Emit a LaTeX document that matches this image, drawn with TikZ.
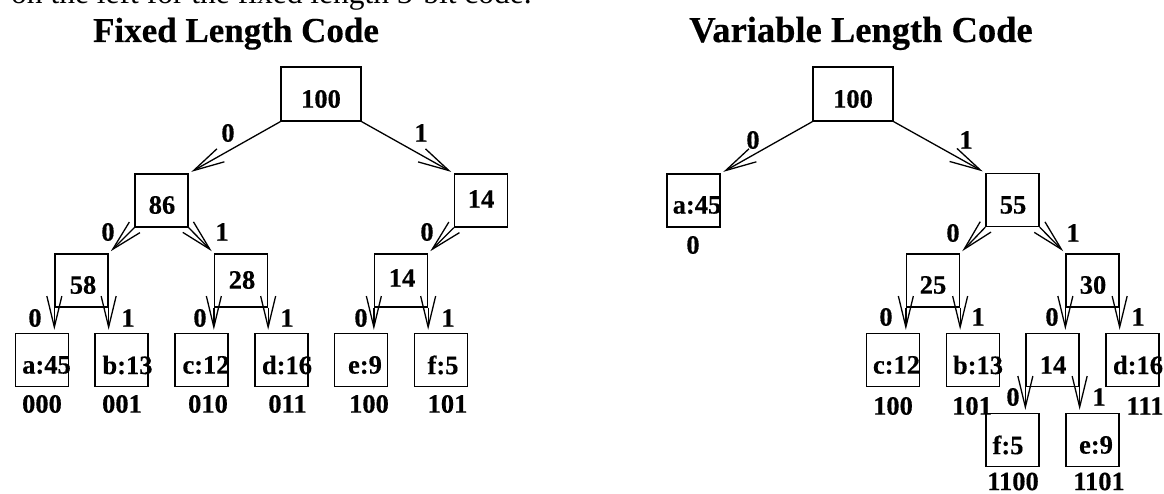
\documentclass[tikz,border=0pt]{standalone}
\usepackage{fontspec}
\setmainfont{Liberation Serif}
\newfontfamily\heavyfont{Liberation Serif Bold}[FakeBold=0.4]
\usetikzlibrary{arrows.meta}
\begin{document}
\begin{tikzpicture}[x=1pt,y=-1pt,
  box/.style={draw,line width=1.3pt,minimum width=53pt,minimum height=53pt,inner sep=0pt},
  rootbox/.style={box,minimum width=80pt,minimum height=54pt},
  txt/.style={inner sep=0pt,font=\fontsize{26.5}{30}\heavyfont},
  ttl/.style={inner sep=0pt,anchor=base,font=\fontsize{35}{40}\heavyfont},
  edge/.style={line width=1.3pt,-{Straight Barb[length=31pt,width=15pt,line width=1.3pt]},shorten >=3pt}
]
\useasboundingbox (0,0) rectangle (1164,494);
\node[inner sep=0pt,anchor=base west,font=\fontsize{31.5}{36}\selectfont] (cut) at (11,4) {on the left for the fixed length 3-bit code.};
\node[ttl] (tfix) at (236,42) {Fixed Length Code};
\node[ttl,font=\fontsize{36.5}{40}\heavyfont] (tvar) at (861,42) {Variable Length Code};

% ---------- fixed length tree ----------
\node[rootbox] (L100) at (321,94) {};
\node[box] (L86) at (161.5,200.5) {};
\node[box] (L14) at (481,200.5) {};
\node[box] (L58) at (81.5,280.5) {};
\node[box] (L28) at (241,280.5) {};
\node[box] (L14b) at (401,280.5) {};
\node[box] (La) at (42,360) {};
\node[box] (Lb) at (121.5,360) {};
\node[box] (Lc) at (201.5,360) {};
\node[box] (Ld) at (281.5,360) {};
\node[box] (Le) at (361,360) {};
\node[box] (Lf) at (441,360) {};

\node[txt] (tL100) at (321,99) {100};
\node[txt] (tL86) at (162,205) {86};
\node[txt] (tL14) at (481,199) {14};
\node[txt] (tL58) at (83,285) {58};
\node[txt] (tL28) at (242,280) {28};
\node[txt] (tL14b) at (402,278) {14};
\node[txt] (tLa) at (46.5,365) {a:45};
\node[txt] (tLb) at (127.5,365) {b:13};
\node[txt] (tLc) at (206,365) {c:12};
\node[txt] (tLd) at (287,365) {d:16};
\node[txt] (tLe) at (365,365) {e:9};
\node[txt] (tLf) at (443,365) {f:5};

\node[txt] (cLa) at (42,404) {000};
\node[txt] (cLb) at (122,404) {001};
\node[txt] (cLc) at (208,404) {010};
\node[txt] (cLd) at (287.5,404) {011};
\node[txt] (cLe) at (369,404) {100};
\node[txt] (cLf) at (447.5,404) {101};

\draw[edge] (L100.south west) -- (L86.north east);
\draw[edge] (L100.south east) -- (L14.north west);
\draw[edge] (L86.south west) -- (L58.north east);
\draw[edge] (L86.south east) -- (L28.north west);
\draw[edge] (L14.south west) -- (L14b.north east);
\draw[edge] (L58.south west) -- (L58.south west |- La.north);
\draw[edge] (L58.south east) -- (L58.south east |- Lb.north);
\draw[edge] (L28.south west) -- (L28.south west |- Lc.north);
\draw[edge] (L28.south east) -- (L28.south east |- Ld.north);
\draw[edge] (L14b.south west) -- (L14b.south west |- Le.north);
\draw[edge] (L14b.south east) -- (L14b.south east |- Lf.north);

\node[txt] (eL1) at (228,133) {0};
\node[txt] (eL2) at (421,133) {1};
\node[txt] (eL3) at (108,232) {0};
\node[txt] (eL4) at (222,232) {1};
\node[txt] (eL5) at (427,232) {0};
\node[txt] (eL6) at (35,318) {0};
\node[txt] (eL7) at (128,318) {1};
\node[txt] (eL8) at (200,318) {0};
\node[txt] (eL9) at (287,318) {1};
\node[txt] (eL10) at (361,318) {0};
\node[txt] (eL11) at (448,318) {1};

% ---------- variable length tree ----------
\node[rootbox] (R100) at (853,94) {};
\node[box] (Ra) at (693.5,200.5) {};
\node[box] (R55) at (1012.5,200) {};
\node[box] (R25) at (933,280.5) {};
\node[box] (R30) at (1092.5,280.5) {};
\node[box] (Rc) at (893,360) {};
\node[box] (Rb) at (973,360) {};
\node[box] (R14) at (1052.5,360) {};
\node[box] (Rd) at (1132.5,360) {};
\node[box] (Rf) at (1012.5,440) {};
\node[box] (Re) at (1092.5,440) {};

\node[txt] (tR100) at (853,99) {100};
\node[txt] (tRa) at (697,205) {a:45};
\node[txt] (tR55) at (1013,205) {55};
\node[txt] (tR25) at (933,285) {25};
\node[txt] (tR30) at (1093,285) {30};
\node[txt] (tRc) at (896.5,365) {c:12};
\node[txt] (tRb) at (978,365) {b:13};
\node[txt] (tR14) at (1053,365) {14};
\node[txt] (tRd) at (1138,365) {d:16};
\node[txt] (tRf) at (1008,445) {f:5};
\node[txt] (tRe) at (1096,445) {e:9};

\node[txt] (cRa) at (693,245) {0};
\node[txt] (cRc) at (893,406) {100};
\node[txt] (cRb) at (972,406) {101};
\node[txt] (cRd) at (1145,406) {111};
\node[txt] (cRf) at (1013,481.5) {1100};
\node[txt] (cRe) at (1099,481.5) {1101};

\draw[edge] (R100.south west) -- (Ra.north east);
\draw[edge] (R100.south east) -- (R55.north west);
\draw[edge] (R55.south west) -- (R25.north east);
\draw[edge] (R55.south east) -- (R30.north west);
\draw[edge] (R25.south west) -- (R25.south west |- Rc.north);
\draw[edge] (R25.south east) -- (R25.south east |- Rb.north);
\draw[edge] (R30.south west) -- (R30.south west |- R14.north);
\draw[edge] (R30.south east) -- (R30.south east |- Rd.north);
\draw[edge] (R14.south west) -- (R14.south west |- Rf.north);
\draw[edge] (R14.south east) -- (R14.south east |- Re.north);

\node[txt] (eR1) at (753,140) {0};
\node[txt] (eR2) at (966,140) {1};
\node[txt] (eR3) at (953,233) {0};
\node[txt] (eR4) at (1073,233) {1};
\node[txt] (eR5) at (886,317) {0};
\node[txt] (eR6) at (978,317) {1};
\node[txt] (eR7) at (1052,317) {0};
\node[txt] (eR8) at (1138,317) {1};
\node[txt] (eR9) at (1013,397) {0};
\node[txt] (eR10) at (1099,397) {1};
\end{tikzpicture}
\end{document}
